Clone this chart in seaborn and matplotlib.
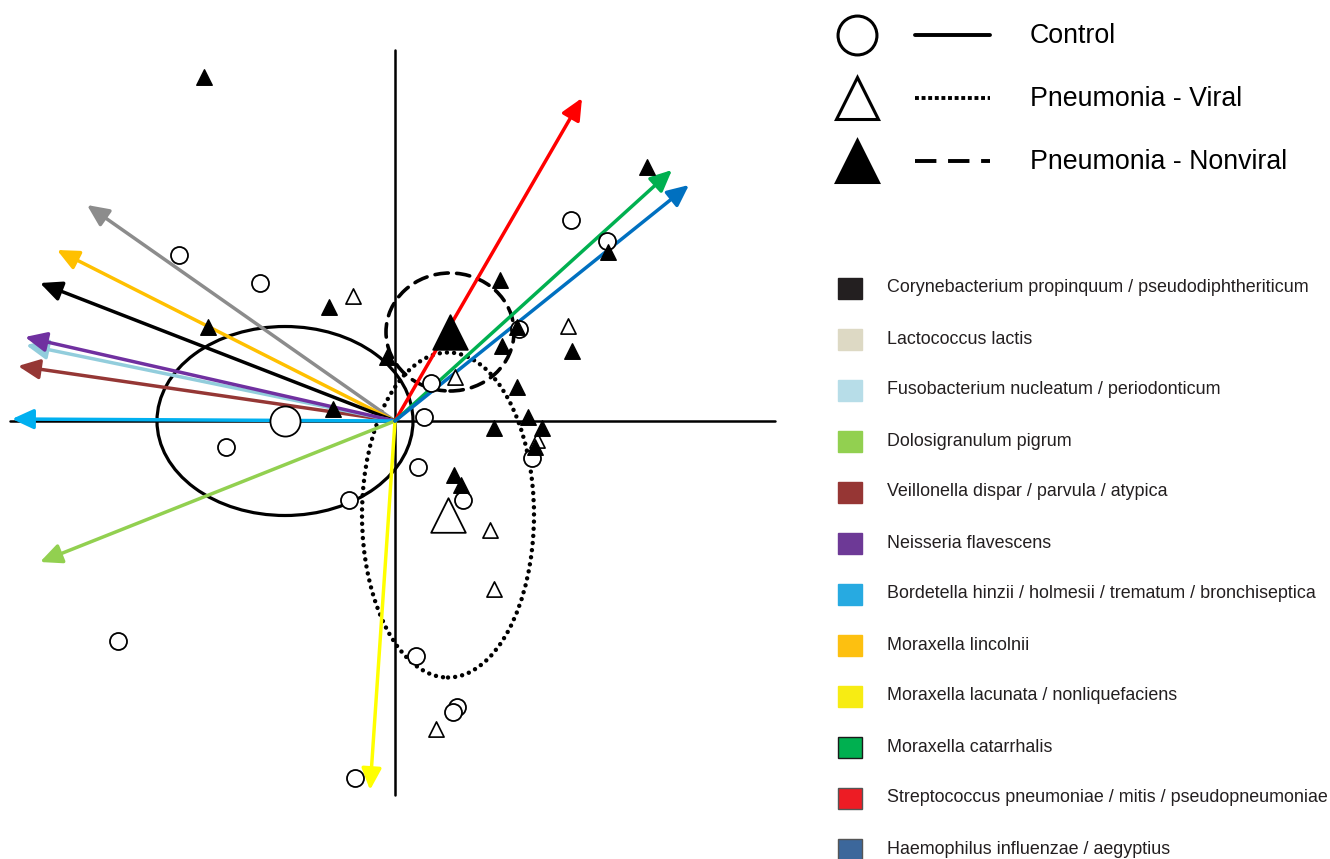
"""
Biplot (PCA-like) of samples by group, with species loadings as arrows.
"""

import matplotlib.pyplot as plt
import seaborn as sns
import pandas as pd
from matplotlib.patches import Ellipse, FancyArrowPatch, Rectangle
from matplotlib.lines import Line2D

sns.set_theme(style='white')
plt.rcParams['font.family'] = ['Liberation Sans', 'DejaVu Sans']

# sample scores
control_x = [-2.16, -1.35, -1.69, -0.46, -2.77, -0.40, 1.76, 2.12, 1.24, 0.36,
             0.29, 0.23, 0.68, 1.37, 0.21, 0.62, 0.58]
control_y = [1.66, 1.38, -0.26, -0.79, -2.20, -3.57, 2.01, 1.80, 0.92, 0.38,
             0.04, -0.46, -0.79, -0.37, -2.35, -2.86, -2.91]
viral_x = [-0.42, 1.73, 0.60, 1.42, 0.95, 0.99, 0.41]
viral_y = [1.25, 0.95, 0.44, -0.19, -1.09, -1.68, -3.08]
nonviral_x = [-1.91, 2.52, 2.13, -0.66, 1.05, 1.22, 1.07, 1.77, -0.08, 1.22,
              1.33, 0.99, 1.47, 1.40, 0.59, 0.66, -0.62, -1.87]
nonviral_y = [3.44, 2.54, 1.69, 1.14, 1.41, 0.94, 0.75, 0.70, 0.64, 0.34,
              0.04, -0.07, -0.07, -0.26, -0.54, -0.64, 0.12, 0.94]

# group centroids and ellipse sizes
groups = ['Control', 'Pneumonia - Viral', 'Pneumonia - Nonviral']
centroid_x = [-1.10, 0.53, 0.55]
centroid_y = [0.00, -0.94, 0.89]
ellipse_w = [2.56, 1.72, 1.28]
ellipse_h = [1.89, 3.25, 1.18]

# species loadings (arrow tips)
species = ['Corynebacterium propinquum / pseudodiphtheriticum', 'Lactococcus lactis',
           'Fusobacterium nucleatum / periodonticum', 'Dolosigranulum pigrum',
           'Veillonella dispar / parvula / atypica', 'Neisseria flavescens',
           'Bordetella hinzii / holmesii / trematum / bronchiseptica', 'Moraxella lincolnii',
           'Moraxella lacunata / nonliquefaciens', 'Moraxella catarrhalis',
           'Streptococcus pneumoniae / mitis / pseudopneumoniae', 'Haemophilus influenzae / aegyptius']
load_x = [-3.55, -3.08, -3.69, -3.55, -3.77, -3.70, -3.83, -3.38, -0.25, 2.77, 1.87, 2.94]
load_y = [1.38, 2.16, 0.76, -1.41, 0.55, 0.84, 0.02, 1.71, -3.69, 2.51, 3.23, 2.36]
arrow_colors = ['#000000', '#8c8c8c', '#92cddc', '#92d050', '#953735', '#7030a0',
                '#00b0f0', '#ffc000', '#ffff00', '#00b050', '#ff0000', '#0070c0']
legend_colors = ['#231f20', '#ddd9c4', '#b7dde8', '#92d050', '#963634', '#6d3996',
                 '#27aae1', '#fdc010', '#f7ec13', '#00b050', '#ed1c24', '#3c679b']
legend_edges = [None, None, None, None, None, None, None, None, None, '#1a1a1a', '#555555', '#555555']

fig = plt.figure(figsize=(13.3, 8.59), dpi=100)
ax = fig.add_axes([0, 0, 1, 1])
ax.set_xlim(-3.95, 9.35)
ax.set_ylim(-4.38, 4.21)
ax.set_aspect('equal')
ax.axis('off')

# axes through origin
ax.plot([0, 0], [-3.74, 3.71], color='black', lw=1.8, zorder=1)
ax.plot([-3.85, 3.80], [0, 0], color='black', lw=1.8, zorder=1)

# group ellipses
styles = ['-', (0, (0.01, 1.6)), (0, (3.7, 2.3))]
widths = [2.3, 3.2, 2.6]
for cx, cy, w, h, ls, lw in zip(centroid_x, centroid_y, ellipse_w, ellipse_h, styles, widths):
    e = Ellipse((cx, cy), w, h, fill=False, edgecolor='black', lw=lw, linestyle=ls, zorder=2)
    e.set_capstyle('round')
    ax.add_patch(e)

# loading arrows
order = [1, 7, 0, 4, 2, 5, 6, 3, 8, 10, 9, 11]
for i in order:
    arr = FancyArrowPatch((0, 0), (load_x[i], load_y[i]),
                          arrowstyle='-|>,head_length=1.3,head_width=0.6',
                          mutation_scale=10, color=arrow_colors[i], lw=2.5,
                          shrinkA=0, shrinkB=0, zorder=3)
    ax.add_patch(arr)

# sample points
pts = pd.DataFrame({
    'x': control_x + viral_x + nonviral_x,
    'y': control_y + viral_y + nonviral_y,
    'grp': ['Control'] * len(control_x) + ['Viral'] * len(viral_x) + ['Nonviral'] * len(nonviral_x),
})
sns.scatterplot(data=pts[pts.grp == 'Control'], x='x', y='y', marker='o', s=150,
                color='white', edgecolor='black', linewidth=1.3, ax=ax, zorder=4)
sns.scatterplot(data=pts[pts.grp == 'Viral'], x='x', y='y', marker='^', s=120,
                color='white', edgecolor='black', linewidth=1.2, ax=ax, zorder=4)
sns.scatterplot(data=pts[pts.grp == 'Nonviral'], x='x', y='y', marker='^', s=125,
                color='black', edgecolor='black', linewidth=1.0, ax=ax, zorder=4)

# centroids
cent_marker = ['o', '^', '^']
cent_face = ['white', 'white', 'black']
cent_size = [470, 620, 620]
for cx, cy, m, fc, s in zip(centroid_x, centroid_y, cent_marker, cent_face, cent_size):
    ax.scatter([cx], [cy], marker=m, s=s, facecolor=fc, edgecolor='black', lw=1.3, zorder=5)
ax.set_xlabel('')
ax.set_ylabel('')

# legends, in pixel coordinates
lax = fig.add_axes([0, 0, 1, 1])
lax.set_xlim(0, 1330)
lax.set_ylim(859, 0)
lax.axis('off')

leg_ls = ['-', (0, (1.0, 0.7)), (0, (5.5, 3.0))]
for i, (g, m, fc, ls) in enumerate(zip(groups, cent_marker, cent_face, leg_ls)):
    yy = 35 + 63 * i
    lax.add_line(Line2D([857], [yy], marker=m, markersize=30 if m == '^' else 28,
                        markerfacecolor=fc, markeredgecolor='black', markeredgewidth=2.2,
                        linestyle='none'))
    lax.add_line(Line2D([915, 990], [yy, yy], color='black', lw=2.8, linestyle=ls,
                        dash_capstyle='butt'))
    lax.text(1030, yy + 1, g, fontsize=19.3, va='center', ha='left', color='black')

for i, (sp, fc, ec) in enumerate(zip(species, legend_colors, legend_edges)):
    yy = 288 + 51 * i
    lax.add_patch(Rectangle((838, yy - 10.5), 24, 21, facecolor=fc,
                            edgecolor=ec if ec else fc, lw=1.0))
    lax.text(887, yy, sp, fontsize=12.9, va='center', ha='left', color='#231f20')

fig.savefig('out.png', dpi=100)
plt.close()
